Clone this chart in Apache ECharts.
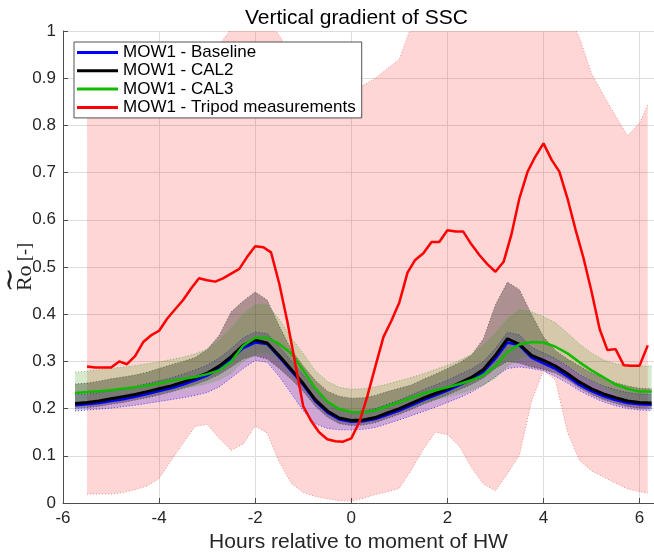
<!DOCTYPE html>
<html>
<head>
<meta charset="utf-8">
<script src="https://cdn.jsdelivr.net/npm/echarts@6/dist/echarts.min.js"></script>
<style>
  html, body { margin: 0; padding: 0; background: #fff; }
  #chart { width: 654px; height: 552px; }
</style>
</head>
<body>
<div id="chart"></div>
<script>
// Hours relative to HW for the model runs
const modelX = [-5.75, -5.5, -5.25, -5.0, -4.75, -4.5, -4.25, -4.0, -3.75, -3.5, -3.25, -3.0, -2.75, -2.5, -2.25, -2.0, -1.75, -1.5, -1.25, -1.0, -0.75, -0.5, -0.25, 0, 0.25, 0.5, 0.75, 1.0, 1.25, 1.5, 1.75, 2.0, 2.25, 2.5, 2.75, 3.0, 3.25, 3.5, 3.75, 4.0, 4.25, 4.5, 4.75, 5.0, 5.25, 5.5, 5.75, 6.0, 6.25];

// MOW1 - Baseline
const baseMean = [0.207,0.209,0.212,0.216,0.220,0.225,0.231,0.237,0.243,0.251,0.260,0.270,0.285,0.305,0.328,0.340,0.337,0.309,0.280,0.250,0.216,0.192,0.177,0.172,0.173,0.178,0.187,0.196,0.207,0.218,0.228,0.238,0.250,0.262,0.278,0.306,0.340,0.334,0.308,0.296,0.284,0.268,0.250,0.237,0.226,0.218,0.212,0.209,0.208];
const baseLo = [0.195,0.197,0.199,0.201,0.204,0.207,0.211,0.215,0.219,0.223,0.228,0.234,0.246,0.265,0.285,0.302,0.298,0.268,0.232,0.195,0.168,0.158,0.155,0.155,0.156,0.160,0.168,0.176,0.185,0.194,0.203,0.213,0.223,0.235,0.250,0.268,0.285,0.288,0.285,0.280,0.268,0.254,0.238,0.225,0.214,0.206,0.200,0.197,0.196];
const baseHi = [0.229,0.231,0.234,0.238,0.242,0.247,0.253,0.259,0.265,0.273,0.282,0.292,0.307,0.327,0.350,0.362,0.359,0.331,0.302,0.272,0.238,0.214,0.199,0.194,0.195,0.200,0.209,0.218,0.229,0.240,0.250,0.260,0.272,0.284,0.300,0.328,0.362,0.356,0.330,0.318,0.306,0.290,0.272,0.259,0.248,0.240,0.234,0.231,0.230];

// MOW1 - CAL2
const cal2Mean = [0.211,0.213,0.216,0.221,0.225,0.230,0.236,0.242,0.248,0.256,0.265,0.275,0.290,0.310,0.334,0.345,0.339,0.312,0.283,0.253,0.219,0.195,0.180,0.175,0.176,0.181,0.191,0.200,0.211,0.222,0.232,0.242,0.254,0.266,0.283,0.313,0.348,0.336,0.313,0.302,0.290,0.274,0.256,0.242,0.231,0.223,0.216,0.213,0.212];
const cal2Lo = [0.200,0.202,0.205,0.209,0.213,0.218,0.223,0.229,0.235,0.243,0.251,0.260,0.272,0.288,0.305,0.312,0.305,0.285,0.262,0.236,0.205,0.182,0.168,0.164,0.165,0.170,0.179,0.188,0.198,0.209,0.219,0.229,0.240,0.251,0.265,0.285,0.300,0.296,0.288,0.283,0.275,0.261,0.244,0.230,0.219,0.211,0.204,0.201,0.200];
const cal2Hi = [0.252,0.254,0.258,0.263,0.267,0.271,0.277,0.285,0.293,0.300,0.308,0.325,0.355,0.405,0.428,0.447,0.430,0.375,0.325,0.290,0.260,0.237,0.226,0.222,0.223,0.228,0.236,0.243,0.250,0.262,0.273,0.285,0.297,0.313,0.348,0.420,0.468,0.452,0.400,0.352,0.323,0.305,0.290,0.276,0.265,0.255,0.248,0.243,0.242];

// MOW1 - CAL3
const cal3Mean = [0.233,0.235,0.237,0.239,0.242,0.245,0.249,0.253,0.259,0.263,0.267,0.273,0.281,0.300,0.333,0.350,0.350,0.337,0.317,0.281,0.243,0.215,0.199,0.193,0.192,0.196,0.205,0.214,0.223,0.232,0.239,0.245,0.252,0.260,0.271,0.290,0.320,0.336,0.341,0.340,0.331,0.317,0.298,0.281,0.266,0.251,0.242,0.236,0.236];
const cal3Lo = [0.213,0.215,0.217,0.219,0.222,0.225,0.229,0.233,0.239,0.243,0.247,0.253,0.261,0.275,0.300,0.315,0.318,0.305,0.285,0.252,0.218,0.193,0.178,0.173,0.172,0.176,0.185,0.194,0.203,0.212,0.219,0.225,0.232,0.240,0.250,0.265,0.290,0.305,0.312,0.312,0.305,0.293,0.276,0.260,0.246,0.231,0.222,0.216,0.216];
const cal3Hi = [0.277,0.279,0.282,0.285,0.288,0.291,0.295,0.299,0.304,0.309,0.316,0.326,0.345,0.370,0.400,0.420,0.420,0.390,0.350,0.317,0.280,0.258,0.245,0.241,0.242,0.246,0.252,0.259,0.266,0.274,0.283,0.292,0.302,0.315,0.335,0.360,0.390,0.410,0.405,0.395,0.382,0.360,0.337,0.318,0.303,0.295,0.291,0.290,0.290];

// MOW1 - Tripod measurements (mean)
const tripodX = [-5.5,-5.33,-5.17,-5.0,-4.83,-4.67,-4.5,-4.33,-4.17,-4.0,-3.83,-3.67,-3.5,-3.33,-3.17,-3.0,-2.83,-2.67,-2.5,-2.33,-2.17,-2.0,-1.83,-1.67,-1.5,-1.33,-1.17,-1.0,-0.83,-0.67,-0.5,-0.33,-0.17,0,0.17,0.33,0.5,0.67,0.83,1.0,1.17,1.33,1.5,1.67,1.83,2.0,2.17,2.33,2.5,2.67,2.83,3.0,3.17,3.33,3.5,3.67,3.83,4.0,4.17,4.33,4.5,4.67,4.83,5.0,5.17,5.33,5.5,5.67,5.83,6.0,6.17];
const tripodMean = [0.289,0.287,0.287,0.287,0.300,0.294,0.311,0.341,0.355,0.365,0.391,0.410,0.430,0.455,0.476,0.472,0.469,0.476,0.486,0.496,0.521,0.544,0.542,0.531,0.465,0.384,0.297,0.205,0.173,0.150,0.135,0.131,0.130,0.137,0.172,0.225,0.289,0.352,0.385,0.425,0.488,0.515,0.529,0.553,0.553,0.578,0.575,0.575,0.548,0.525,0.506,0.490,0.511,0.568,0.646,0.702,0.734,0.762,0.727,0.702,0.645,0.578,0.520,0.448,0.368,0.324,0.326,0.292,0.291,0.291,0.334];

// Tripod measurement spread
const spreadX = [-5.5,-5.25,-5.0,-4.75,-4.5,-4.25,-4.0,-3.75,-3.5,-3.25,-3.0,-2.75,-2.5,-2.25,-2.0,-1.75,-1.5,-1.25,-1.0,-0.75,-0.5,-0.25,0,0.25,0.5,0.75,1.0,1.25,1.5,1.75,2.0,2.25,2.5,2.75,3.0,3.25,3.5,3.75,4.0,4.25,4.5,4.75,5.0,5.25,5.5,5.75,6.0,6.17];
const spreadLo = [0.019,0.019,0.019,0.022,0.028,0.036,0.052,0.090,0.127,0.162,0.167,0.137,0.112,0.125,0.163,0.148,0.087,0.042,0.022,0.014,0.009,0.005,0.004,0.010,0.018,0.024,0.031,0.070,0.114,0.150,0.145,0.120,0.075,0.040,0.026,0.062,0.102,0.215,0.282,0.260,0.150,0.090,0.068,0.055,0.042,0.030,0.024,0.021];
const spreadHi = [0.818,0.84,0.86,0.88,0.89,0.90,0.91,0.92,0.93,0.94,0.955,0.97,1.005,1.05,1.06,1.03,0.99,0.95,0.92,0.90,0.89,0.88,0.88,0.885,0.90,0.92,0.94,1.01,1.05,1.06,1.07,1.07,1.07,1.07,1.07,1.07,1.07,1.07,1.07,1.06,1.04,0.985,0.91,0.864,0.82,0.778,0.805,0.843];

const xTicks = [-6, -4, -2, 0, 2, 4, 6];

const FONT = '"Liberation Sans", Arial, Helvetica, sans-serif';
const SERIF = '"Liberation Serif", "DejaVu Serif", serif';
const pairs = (xs, ys) => ys.map((v, i) => [xs[i], v]);

// Shaded band between lo and hi, with dotted outlines, drawn in data coordinates
function band(xs, lo, hi, fill, edge) {
  return {
    type: 'custom', coordinateSystem: 'cartesian2d', clip: true, silent: true, z: 1,
    data: [[xs[0], lo[0]]],
    renderItem: (params, api) => {
      const upper = xs.map((x, i) => api.coord([x, hi[i]]));
      const lower = xs.map((x, i) => api.coord([x, lo[i]]));
      const cs = params.coordSys;
      const edgeStyle = { stroke: edge, lineWidth: 1, lineDash: [1, 2], fill: null };
      return {
        type: 'group',
        clipPath: { type: 'rect', shape: { x: cs.x, y: cs.y, width: cs.width, height: cs.height } },
        children: [
          { type: 'polygon', shape: { points: upper.concat(lower.slice().reverse()) }, style: { fill } },
          { type: 'polyline', shape: { points: upper }, style: edgeStyle },
          { type: 'polyline', shape: { points: lower }, style: edgeStyle }
        ]
      };
    }
  };
}

function meanLine(name, xs, ys, color, width) {
  return { name, type: 'line', data: pairs(xs, ys), symbol: 'none', color,
    lineStyle: { color, width }, z: 3 };
}

const chart = echarts.init(document.getElementById('chart'), null, { renderer: 'canvas' });
chart.setOption({
  animation: false,
  backgroundColor: '#fff',
  title: {
    text: 'Vertical gradient of SSC', left: 240, top: 3,
    textStyle: { fontFamily: FONT, fontSize: 21, fontWeight: 'normal', color: '#000' }
  },
  grid: { left: 63, right: 0, top: 31, bottom: 49, outerBoundsMode: 'none' },
  legend: {
    data: ['MOW1 - Baseline', 'MOW1 - CAL2', 'MOW1 - CAL3', 'MOW1 - Tripod measurements'],
    orient: 'vertical', left: 74, top: 42,
    icon: 'rect', itemWidth: 41, itemHeight: 3, itemGap: 1.3,
    padding: [2, 6, 2, 3],
    borderColor: '#262626', borderWidth: 0.8, backgroundColor: '#fff',
    selectedMode: false,
    textStyle: { fontFamily: FONT, fontSize: 17, lineHeight: 17, color: '#000' }
  },
  xAxis: {
    type: 'value', min: -6, max: 6.3, interval: 2,
    name: 'Hours relative to moment of HW', nameLocation: 'middle', nameGap: 27,
    nameTextStyle: { fontFamily: FONT, fontSize: 21, color: '#262626' },
    axisLine: { show: true, onZero: false, lineStyle: { color: '#4d4d4d', width: 1 } },
    axisTick: { show: true, inside: true, length: 5, lineStyle: { color: '#4d4d4d' } },
    axisLabel: {
      fontFamily: FONT, fontSize: 17, color: '#262626', margin: 7,
      formatter: v => (xTicks.includes(v) ? String(v) : '')
    },
    splitLine: { show: true, lineStyle: { color: '#dedede', width: 1 } }
  },
  yAxis: {
    type: 'value', min: 0, max: 1, interval: 0.1,
    name: '{t|\u223C}\n{r|Ro}{u| [-]}', nameLocation: 'middle', nameGap: 27, nameRotate: 90,
    nameMoveOverlap: false,
    nameTextStyle: {
      fontFamily: SERIF, color: '#262626', align: 'center',
      rich: {
        t: { fontFamily: '"DejaVu Serif", serif', fontSize: 30, lineHeight: 6, color: '#262626', padding: [0, 26, 0, 0] },
        r: { fontFamily: SERIF, fontSize: 22, lineHeight: 22, color: '#262626' },
        u: { fontFamily: SERIF, fontSize: 18, lineHeight: 22, color: '#262626' }
      }
    },
    axisLine: { show: true, onZero: false, lineStyle: { color: '#4d4d4d', width: 1 } },
    axisTick: { show: true, inside: true, length: 5, lineStyle: { color: '#4d4d4d' } },
    axisLabel: {
      fontFamily: FONT, fontSize: 17, color: '#262626', margin: 7,
      formatter: v => String(Math.round(v * 10) / 10)
    },
    splitLine: { show: true, lineStyle: { color: '#dedede', width: 1 } }
  },
  series: [
    band(spreadX, spreadLo, spreadHi, 'rgba(255,0,0,0.16)', 'rgba(240,60,60,0.55)'),
    band(modelX, baseLo, baseHi, 'rgba(30,0,220,0.22)', 'rgba(40,40,255,0.8)'),
    band(modelX, cal2Lo, cal2Hi, 'rgba(0,0,0,0.32)', 'rgba(60,60,60,0.7)'),
    band(modelX, cal3Lo, cal3Hi, 'rgba(50,144,0,0.2)', 'rgba(60,180,60,0.7)'),
    meanLine('MOW1 - Baseline', modelX, baseMean, '#0000ff', 2.5),
    meanLine('MOW1 - CAL2', modelX, cal2Mean, '#000000', 3),
    meanLine('MOW1 - CAL3', modelX, cal3Mean, '#11bb00', 2.5),
    meanLine('MOW1 - Tripod measurements', tripodX, tripodMean, '#ff0000', 2.5)
  ]
});
</script>
</body>
</html>
